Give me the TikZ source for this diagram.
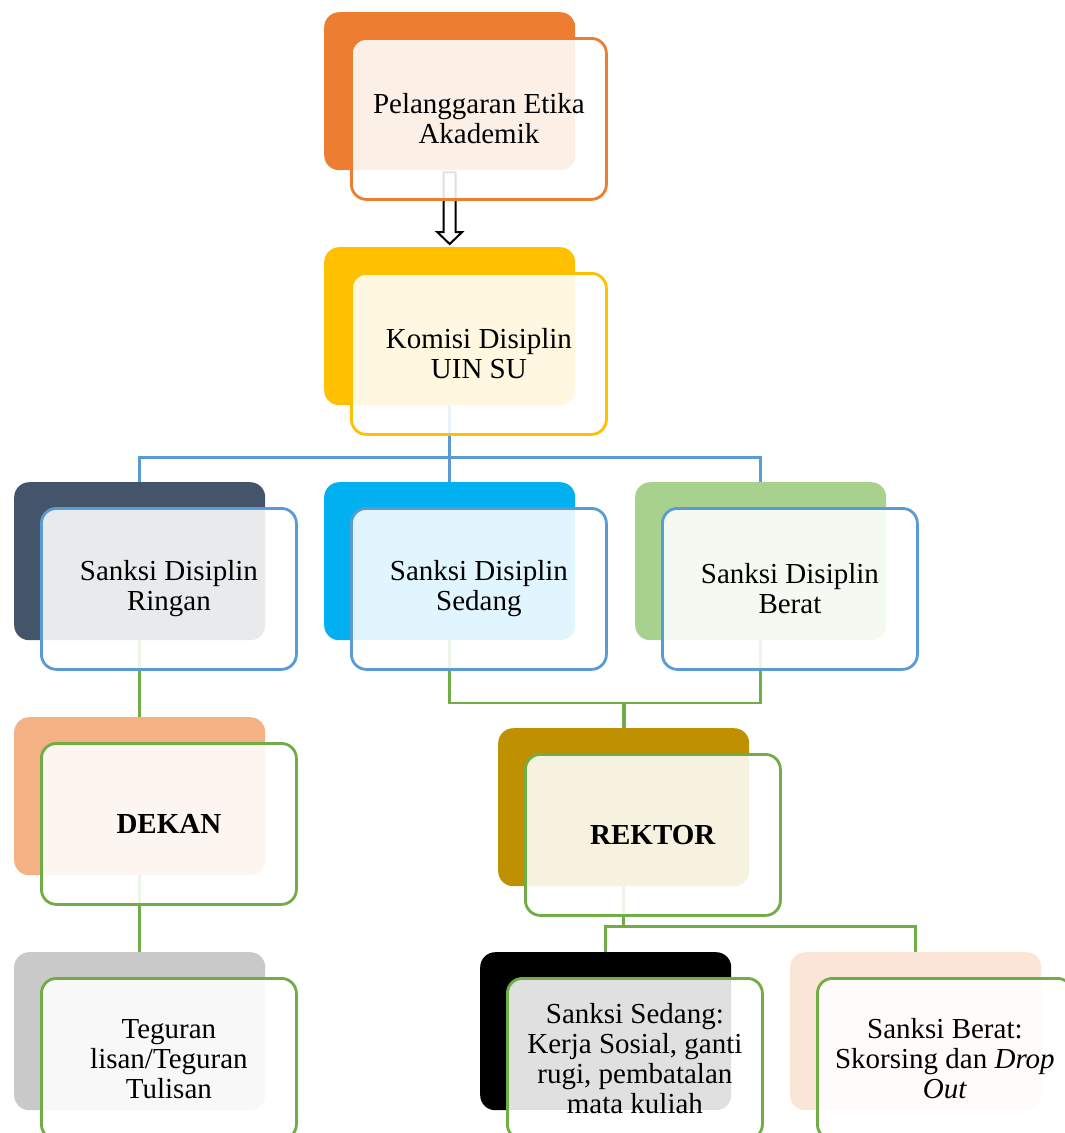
\documentclass[tikz,border=0pt]{standalone}
\usepackage{fontspec}
\setmainfont{Liberation Serif}
\usetikzlibrary{calc}

\definecolor{cOrange}{HTML}{ED7D31}
\definecolor{cGold}{HTML}{FFC000}
\definecolor{cSlate}{HTML}{44546A}
\definecolor{cSky}{HTML}{00B0F0}
\definecolor{cLeaf}{HTML}{A9D18E}
\definecolor{cPeach}{HTML}{F4B183}
\definecolor{cOchre}{HTML}{BF9000}
\definecolor{cSilver}{HTML}{C9C9C9}
\definecolor{cBlush}{HTML}{FBE5D6}
\definecolor{lnBlue}{HTML}{5B9BD5}
\definecolor{lnGreen}{HTML}{70AD47}

\tikzset{
  backbox/.style={rectangle, rounded corners=15pt, minimum width=251pt,
    minimum height=158pt, inner sep=0pt, anchor=north west, fill=#1},
  frontbox/.style={rectangle, rounded corners=15pt, minimum width=255pt,
    minimum height=161pt, inner sep=0pt, anchor=north west, draw=#1,
    line width=2.8pt, fill=white, fill opacity=0.88, text opacity=1,
    font=\fontsize{29}{30}\selectfont, align=center, text=black},
  link/.style={line width=2.6pt, draw=#1},
  blockarrow/.style={draw=black, fill=white, line width=2pt, line join=miter},
}

\begin{document}
\begin{tikzpicture}[x=1pt, y=-1pt]
  \useasboundingbox (0,0) rectangle (1065,1133);
  \clip (0,0) rectangle (1065,1133);

  % solid back panels
  \node[backbox=cOrange] (b1) at (324,12) {};
  \node[backbox=cGold]   (b2) at (324,247) {};
  \node[backbox=cSlate]  (b3a) at (14,482) {};
  \node[backbox=cSky]    (b3b) at (324,482) {};
  \node[backbox=cLeaf]   (b3c) at (635,482) {};
  \node[backbox=cPeach]  (b4) at (14,717) {};
  \node[backbox=cOchre]  (b5) at (498,728) {};
  \node[backbox=cSilver] (b6) at (14,952) {};
  \node[backbox=black]   (b7a) at (480,952) {};
  \node[backbox=cBlush]  (b7b) at (790,952) {};

  % block arrow between the first two levels
  \draw[blockarrow] ($(b1.south)+(-6,2)$) -- ($(b2.north)+(-6,-15)$)
    -- ++(-6.5,0) -- ($(b2.north)+(0,-3)$) -- ($(b2.north)+(12.5,-15)$)
    -- ++(-6.5,0) -- ($(b1.south)+(6,2)$) -- cycle;

  % connectors
  \coordinate (j1) at ($(b2.south)+(0,52)$);
  \draw[link=lnBlue] (b2.south) -- (b3b.north);
  \draw[link=lnBlue] (b3a.north) |- (j1) -| (b3c.north);

  \draw[link=lnGreen] (b3a.south) -- (b4.north);
  \coordinate (j2) at ($(b5.north)+(0,-25)$);
  \draw[link=lnGreen] (b3b.south) |- (j2) -| (b3c.south);
  \draw[lnGreen, line width=4pt] (j2) -- (b5.north);

  \draw[link=lnGreen] (b4.south) -- (b6.north);
  \coordinate (j3) at ($(b5.south)+(0,40)$);
  \draw[link=lnGreen] (b5.south) -- (j3);
  \draw[link=lnGreen] (b7a.north) |- (j3) -| (b7b.north);

  % translucent front panels with their texts
  \node[frontbox=cOrange] (f1) at ($(b1.north west)+(26,25)$)
    {Pelanggaran Etika\\Akademik};
  \node[frontbox=cGold] (f2) at ($(b2.north west)+(26,25)$)
    {Komisi Disiplin\\UIN SU};
  \node[frontbox=lnBlue] (f3a) at ($(b3a.north west)+(26,25)$)
    {Sanksi Disiplin\\Ringan};
  \node[frontbox=lnBlue] (f3b) at ($(b3b.north west)+(26,25)$)
    {Sanksi Disiplin\\Sedang};
  \node[frontbox=lnBlue] (f3c) at ($(b3c.north west)+(26,25)$)
    {Sanksi Disiplin\\Berat};
  \node[frontbox=lnGreen] (f4) at ($(b4.north west)+(26,25)$)
    {\textbf{DEKAN}};
  \node[frontbox=lnGreen] (f5) at ($(b5.north west)+(26,25)$)
    {\textbf{REKTOR}};
  \node[frontbox=lnGreen] (f6) at ($(b6.north west)+(26,25)$)
    {Teguran\\lisan/Teguran\\Tulisan};
  \node[frontbox=lnGreen] (f7a) at ($(b7a.north west)+(26,25)$)
    {Sanksi Sedang:\\Kerja Sosial, ganti\\rugi, pembatalan\\mata kuliah};
  \node[frontbox=lnGreen] (f7b) at ($(b7b.north west)+(26,25)$)
    {Sanksi Berat:\\Skorsing dan \textit{Drop}\\\textit{Out}};
\end{tikzpicture}
\end{document}
